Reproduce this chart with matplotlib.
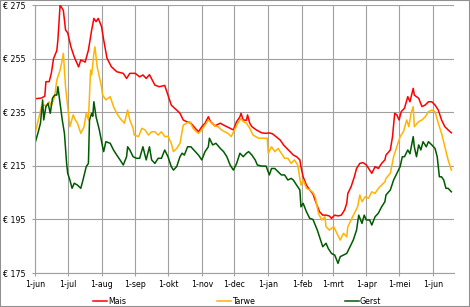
import matplotlib
matplotlib.use("Agg")
import matplotlib.pyplot as plt
import pandas as pd
from matplotlib.patches import Rectangle

# dagen sinds 1 juni, prijs in euro per ton
mais_dag = [0, 6, 9, 10, 13, 15, 17, 20, 21, 23, 26, 28, 30, 33, 36, 40, 42, 46, 49, 52,
            54, 56, 58, 61, 63, 66, 70, 75, 81, 84, 87, 92, 96, 99, 102, 105, 110, 114, 119, 122,
            125, 128, 130, 133, 136, 139, 143, 147, 150, 153, 156, 159, 161, 165, 170, 173, 176, 179, 182, 185,
            188, 189, 191, 194, 195, 197, 199, 203, 208, 212, 215, 218, 221, 225, 228, 231, 234, 237, 240, 243,
            244, 246, 249, 252, 255, 258, 261, 264, 267, 270, 272, 275, 278, 281, 284, 286, 287, 290, 293, 295,
            298, 301, 304, 307, 309, 312, 315, 318, 321, 322, 326, 328, 330, 332, 334, 336, 339, 342, 344, 347,
            348, 352, 355, 358, 361, 364, 367, 370, 373, 376, 379, 382]
mais_prijs = [240, 240.3, 241, 246.4, 246.4, 249.6, 255, 258, 262, 275, 273, 265.7, 264.6, 259.3, 255.6, 251.9, 254.5, 253.7, 258.2, 265.7,
              270, 268.8, 270, 267, 262, 255.2, 252, 250.1, 249.5, 247.6, 249.5, 249.5, 248.2, 248.9, 247.6, 249, 245.1, 244.5, 245, 241.4,
              237.7, 236.5, 235.8, 234.6, 232.1, 231.5, 230.9, 229, 227.7, 229.6, 230.9, 233.3, 231.5, 229.9, 230.9, 230.2, 229.6, 229, 228.4, 231.5,
              233.3, 234.6, 232.1, 232, 234, 230.9, 229.6, 228.4, 227.3, 227.1, 227.3, 226.9, 225.9, 224.6, 222.8, 221.5, 220.3, 219, 218.4, 217.2,
              214.7, 210.9, 207.8, 206, 204.5, 201, 197.9, 196.6, 196.6, 196.3, 195.4, 196.6, 196.3, 196.6, 198.5, 201, 204.7, 207.2, 210.9, 214,
              215.9, 216.2, 215.3, 213.4, 212.2, 214.7, 214, 215.9, 217.2, 219, 220.9, 225.9, 234.6, 234, 232.1, 235.2, 236.5, 240.8, 238.9, 243.9,
              241.4, 240.2, 237.1, 237.7, 238.9, 238.9, 237.7, 235.8, 232.1, 229.6, 228.4, 227.3]

tarwe_dag = [0, 3, 6, 9, 10, 13, 15, 18, 20, 23, 25, 26, 28, 30, 32, 35, 37, 39, 42, 45,
             47, 49, 51, 52, 54, 55, 57, 59, 61, 62, 65, 69, 72, 75, 78, 82, 85, 87, 90, 91,
             95, 98, 101, 104, 107, 110, 113, 116, 119, 122, 125, 127, 130, 133, 136, 139, 142, 145, 148, 150,
             153, 156, 159, 162, 165, 168, 171, 174, 177, 180, 183, 186, 189, 191, 194, 197, 200, 205, 209, 213,
             214, 217, 220, 223, 226, 229, 232, 235, 238, 241, 244, 246, 249, 252, 255, 257, 260, 263, 266, 267,
             270, 274, 277, 280, 283, 286, 287, 290, 293, 296, 298, 300, 303, 306, 309, 312, 315, 318, 321, 322,
             326, 329, 332, 335, 338, 341, 343, 345, 347, 348, 352, 355, 358, 361, 364, 367, 370, 373, 376, 379, 382]
tarwe_prijs = [227.1, 232.1, 237.1, 237.7, 237.1, 238.9, 237.5, 240.8, 247, 250.7, 254.5, 257, 244.5, 237.1, 229.6, 234, 232.1, 230.9, 227.1, 229.6,
               234.6, 232.1, 250.7, 248.9, 257, 259.4, 252, 248.2, 244.5, 241.4, 239.6, 240.8, 237.1, 234.6, 232.7, 230.9, 235.8, 232.1, 229, 226.5,
               225.9, 229, 228.4, 226.5, 227.7, 227.7, 226.5, 227.7, 225.9, 226, 223.4, 220.3, 221.5, 223.4, 230.2, 230.9, 231.5, 229, 227.7, 227.1,
               228.4, 230.2, 232.1, 230.9, 229.9, 229.6, 228.4, 227.7, 227.1, 225.9, 228.4, 230.9, 232.7, 231.5, 230.9, 229, 226.5, 225.3, 225.3, 225.3,
               219.7, 222.1, 220.3, 221.5, 219.7, 217.8, 217.8, 215.9, 217.2, 215.3, 207.8, 209.7, 206.6, 206, 205, 203.5, 197.3, 194.8, 196, 192.3,
               191, 192.3, 189.8, 187.3, 189.8, 188.5, 192.3, 194.8, 197.3, 199.7, 204.1, 201.6, 203.5, 202.9, 205.3, 204.7, 206.6, 207.8, 209, 210.3,
               212.2, 218.4, 222.1, 225.9, 227.7, 232.1, 229.6, 234.6, 237.1, 229.6, 231.5, 232.1, 233.3, 235.2, 235.8, 235.2, 230.9, 227.1, 222.1, 217.2, 213.4]

gerst_dag = [0, 3, 5, 7, 8, 10, 12, 14, 16, 18, 20, 21, 23, 25, 27, 29, 30, 32, 34, 36,
             39, 42, 44, 47, 49, 50, 52, 53, 54, 56, 59, 62, 63, 65, 69, 72, 75, 78, 81, 84,
             85, 87, 90, 93, 96, 99, 102, 105, 107, 110, 113, 116, 119, 122, 125, 127, 130, 133, 135, 137,
             140, 143, 147, 150, 153, 156, 159, 160, 163, 166, 170, 173, 176, 179, 182, 185, 188, 191, 194, 196,
             199, 202, 204, 208, 212, 215, 217, 220, 223, 226, 229, 232, 235, 237, 240, 243, 244, 246, 249, 252,
             255, 257, 259, 261, 264, 267, 269, 272, 275, 278, 280, 283, 286, 289, 292, 295, 297, 300, 302, 304,
             307, 309, 312, 315, 318, 321, 322, 326, 329, 332, 335, 337, 339, 342, 344, 347, 348, 350, 352, 354,
             356, 359, 361, 364, 367, 369, 371, 373, 375, 377, 379, 382]
gerst_prijs = [223.4, 227.7, 230.9, 239.6, 232.1, 237.1, 238.3, 234.6, 240.2, 241.4, 241.4, 244.5, 238.3, 232.1, 227.1, 215.9, 212.2, 209.7, 206.6, 208.5,
               207.8, 206.6, 209.7, 214.7, 215.9, 232.1, 234.6, 233.5, 238.9, 233.3, 228.4, 222.1, 220.3, 224, 223.4, 220.9, 219, 217.2, 215.3, 218.4,
               222.1, 220.9, 218.4, 217.8, 217.8, 222.1, 217.2, 222.1, 217.2, 215.9, 217.8, 217.8, 220.9, 218.4, 214.7, 213.4, 214.7, 218.4, 219.7, 219,
               222.1, 222.1, 220.3, 219, 217.2, 220.3, 222.1, 225.3, 222.8, 223.4, 221.5, 220.3, 218.4, 215.3, 213.4, 215.9, 219.7, 218.4, 219.7, 220.3,
               219, 217.2, 215.3, 214.9, 214.9, 211.6, 214, 214, 212.8, 211.6, 211.6, 209.7, 210.3, 209.7, 207.8, 206, 199.7, 201, 197.9, 195.4,
               195, 193, 191, 188.5, 184.8, 186.1, 184.2, 182.3, 181.7, 178.6, 181.1, 181.7, 182.3, 184.8, 187.3, 191, 196.6, 193.5, 196.6, 194.8,
               194.8, 192.9, 196, 197.3, 199.7, 201.6, 204.1, 206, 209.7, 212.2, 214.7, 218.4, 218.4, 220.9, 219.5, 225.9, 222.1, 218.4, 222.8, 220.9,
               224, 222.1, 224, 222.8, 221.5, 218.4, 210.9, 210.9, 209.7, 206.6, 206.6, 205.3]

maand_labels = ["1-jun", "1-jul", "1-aug", "1-sep", "1-okt", "1-nov", "1-dec",
                "1-jan", "1-feb", "1-mrt", "1-apr", "1-mei", "1-jun"]
y_ticks = [175, 195, 215, 235, 255, 275]

start = pd.Timestamp("2012-06-01")


def naar_datum(dagen):
    return start + pd.to_timedelta(dagen, unit="D")


plt.rcParams["font.family"] = "DejaVu Sans"
fs = 5.7
grijs = "#a0a0a0"

fig = plt.figure(figsize=(4.70, 3.07), dpi=100)
ax = fig.add_axes([0.0745, 0.1107, 0.8905, 0.873])

ax.plot(naar_datum(mais_dag), mais_prijs, color="#ff0000", lw=1.1, label="Mais")
ax.plot(naar_datum(tarwe_dag), tarwe_prijs, color="#ffb400", lw=1.1, label="Tarwe")
ax.plot(naar_datum(gerst_dag), gerst_prijs, color="#005a00", lw=1.1, label="Gerst")

ax.set_xlim(start, start + pd.Timedelta(days=384))
ax.set_ylim(175, 275)

maanden = pd.date_range(start, periods=len(maand_labels), freq="MS")
ax.set_xticks(maanden)
ax.set_xticklabels(maand_labels)
ax.set_yticks(y_ticks)
ax.set_yticklabels(["€ %d" % v for v in y_ticks])

ax.grid(True, color=grijs, lw=0.8)
ax.set_axisbelow(True)
for kant in ["top", "right"]:
    ax.spines[kant].set_visible(False)
for kant in ["left", "bottom"]:
    ax.spines[kant].set_color(grijs)
    ax.spines[kant].set_linewidth(0.8)
ax.tick_params(axis="both", length=2, color=grijs, labelsize=fs, colors="#000000")
ax.tick_params(axis="x", pad=3)
ax.tick_params(axis="y", pad=5)

fig.legend(loc="center", bbox_to_anchor=(0.505, 0.018), ncol=3, frameon=False,
           fontsize=fs, handlelength=1.75, handletextpad=0.15, columnspacing=11.4,
           borderpad=0, borderaxespad=0)

fig.patches.append(Rectangle((0, 0), 1, 1, transform=fig.transFigure, fill=False,
                             edgecolor="#909090", lw=1.5))

fig.savefig("out.png", dpi=100)
